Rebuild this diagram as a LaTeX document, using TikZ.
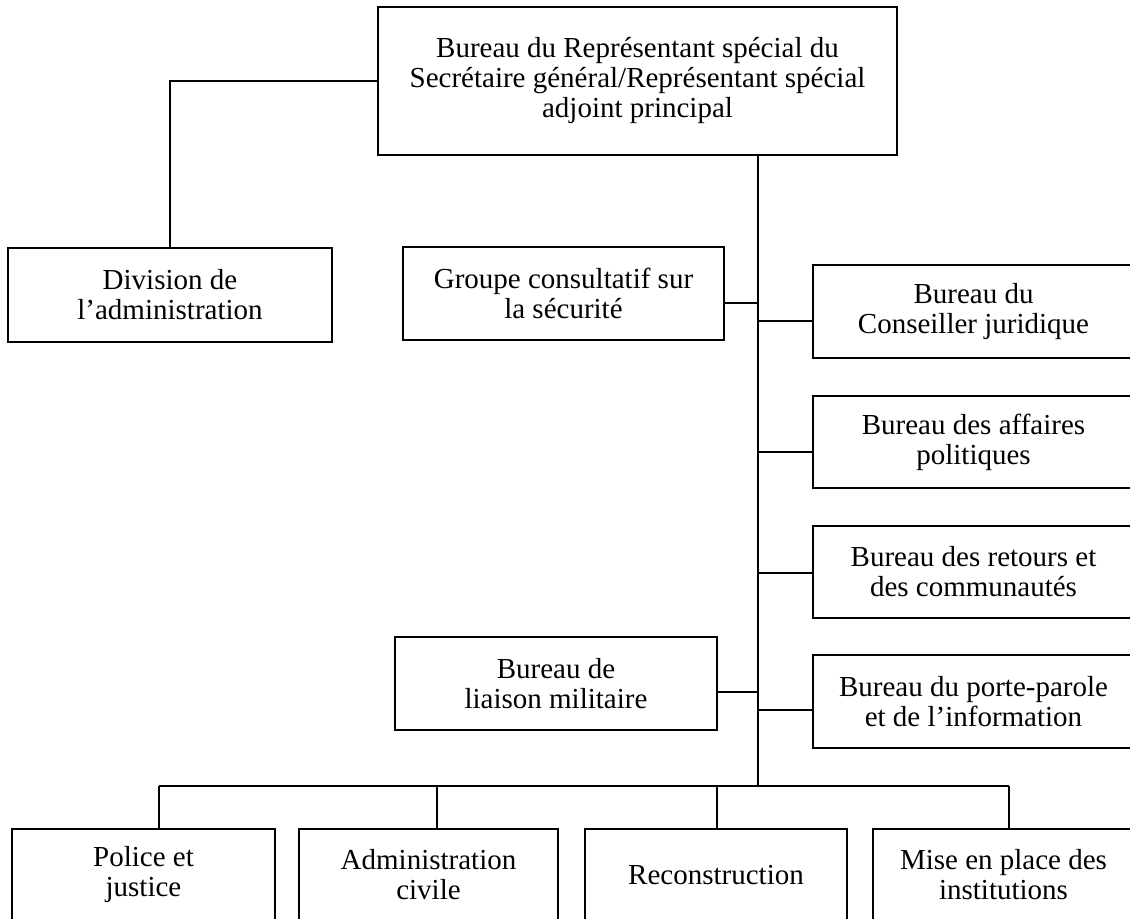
\documentclass[tikz,border=0pt]{standalone}
\usepackage{fontspec}
\setmainfont{Liberation Serif}
\usetikzlibrary{calc}
\tikzset{unit/.style={draw,line width=0.8pt,align=center,inner sep=0pt,
	   minimum width=160.5pt,minimum height=46.5pt,
	   font=\fontsize{14.5}{15}\selectfont},
	 wire/.style={line width=0.8pt}
	 }

\begin{document}
\begin{tikzpicture}[x=0.5pt,y=-0.5pt] % mission structure
        \useasboundingbox (0,0) rectangle (1130,919);
        \node[unit,minimum width=259.5pt,minimum height=74pt] (top) at (637.5,81)
          {Bureau du Représentant spécial du\\Secrétaire général/Représentant spécial\\adjoint principal};
        \node[unit,minimum width=162pt,minimum height=47pt] (div) at (170,295) {Division de\\l'administration};
        \node[unit] (grp) at (563.5,293.5) {Groupe consultatif sur\\la sécurité};
        \node[unit,minimum width=161pt] (lia) at (556,683.5) {Bureau de\\liaison militaire};
        \node[unit] (cons) at (973.5,311.5) {Bureau du\\Conseiller juridique};
        \node[unit,minimum height=46pt] (aff) at (973.5,442) {Bureau des affaires\\politiques};
        \node[unit,minimum height=46pt] (ret) at (973.5,572) {Bureau des retours et\\des communautés};
        \node[unit] (port) at (973.5,701.5) {Bureau du porte-parole\\et de l'information};
        \node[unit,minimum width=131.5pt,minimum height=46pt] (pol) at (143.5,875) {Police et\\justice};
        \node[unit,minimum width=129.5pt,minimum height=46pt] (adm) at (428.5,875) {Administration\\civile};
        \node[unit,minimum width=131pt,minimum height=46pt] (rec) at (716,875) {Reconstruction};
        \node[unit,minimum width=130.5pt,minimum height=46pt] (mis) at (1003.5,875) {Mise en place des\\institutions};
        \coordinate (t0) at (758,155);
        \coordinate (t1) at (758,786);
        \draw[wire] (top.west) -| (div.north);
        \draw[wire] (t0) -- (t1);
        \foreach \b/\d in {grp/9.5,lia/8.5}
          \draw[wire] ($(\b.east)+(0,\d)$) -- ($(\b.east -| t0)+(0,\d)$);
        \foreach \b/\d in {cons/9.5,aff/10,ret/1,port/8.5}
          \draw[wire] ($(\b.west)+(0,\d)$) -- ($(\b.west -| t0)+(0,\d)$);
        \coordinate (d1) at ($(pol.north)+(15.5,0)$);
        \coordinate (d2) at ($(adm.north)+(8.5,0)$);
        \coordinate (d3) at ($(rec.north)+(1,0)$);
        \coordinate (d4) at ($(mis.north)+(5.5,0)$);
        \draw[wire] (d1 |- t1) -- (d4 |- t1);
        \foreach \d in {d1,d2,d3,d4}
          \draw[wire] (\d) -- (\d |- t1);
     \end{tikzpicture}
\end{document}
